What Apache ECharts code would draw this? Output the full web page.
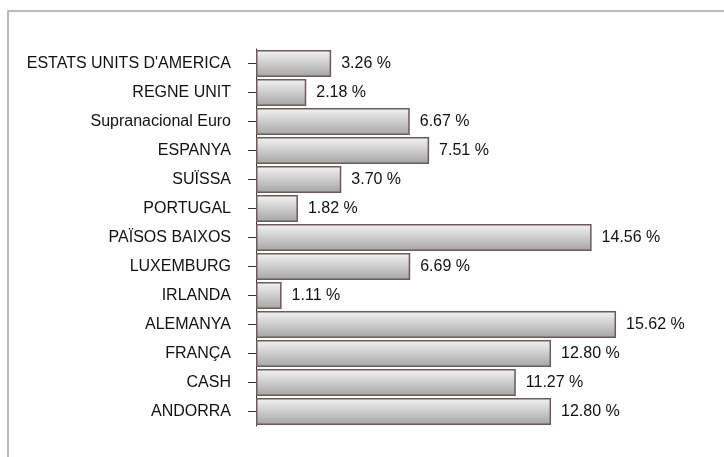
<!DOCTYPE html>
<html>
<head>
<meta charset="utf-8">
<script src="https://cdn.jsdelivr.net/npm/echarts@6/dist/echarts.min.js"></script>
<style>
html,body{margin:0;padding:0;background:#fff;}
#chart{width:724px;height:457px;}
</style>
</head>
<body>
<div id="chart"></div>
<script>
const categories = ["ESTATS UNITS D'AMERICA","REGNE UNIT","Supranacional Euro","ESPANYA","SUÏSSA","PORTUGAL","PAÏSOS BAIXOS","LUXEMBURG","IRLANDA","ALEMANYA","FRANÇA","CASH","ANDORRA"];
const values = [3.26,2.18,6.67,7.51,3.70,1.82,14.56,6.69,1.11,15.62,12.80,11.27,12.80];

const chart = echarts.init(document.getElementById('chart'));
chart.setOption({
  animation:false,
  backgroundColor:'#ffffff',
  textStyle:{fontFamily:'Liberation Sans, Arial, sans-serif'},
  graphic:[{
    type:'rect', silent:true,
    shape:{x:8,y:11,width:730,height:460},
    style:{fill:'none',stroke:'#a6a6a6',lineWidth:1.5}
  }],
  grid:{left:256,top:49,height:377,right:7,containLabel:false},
  xAxis:{type:'value',min:0,max:20,show:false,splitLine:{show:false}},
  yAxis:{
    type:'category',data:categories,inverse:true,
    axisLine:{show:true,lineStyle:{color:'#333333',width:1}},
    axisTick:{show:true,alignWithLabel:true,length:8,lineStyle:{color:'#333333'}},
    axisLabel:{color:'#111111',fontSize:16,margin:25,fontFamily:'Liberation Sans, Arial, sans-serif'}
  },
  series:[{
    type:'bar',data:values,barCategoryGap:'7%',
    itemStyle:{
      color:new echarts.graphic.LinearGradient(0,0,0,1,[
        {offset:0,color:'#f4f4f4'},
        {offset:1,color:'#a4a4a4'}
      ]),
      borderColor:'#6b5b5b',borderWidth:1.5
    },
    label:{show:true,position:'right',distance:10,color:'#111111',fontSize:16,
      fontFamily:'Liberation Sans, Arial, sans-serif',
      formatter:p=>p.value.toFixed(2)+' %'}
  }]
});
</script>
</body>
</html>
